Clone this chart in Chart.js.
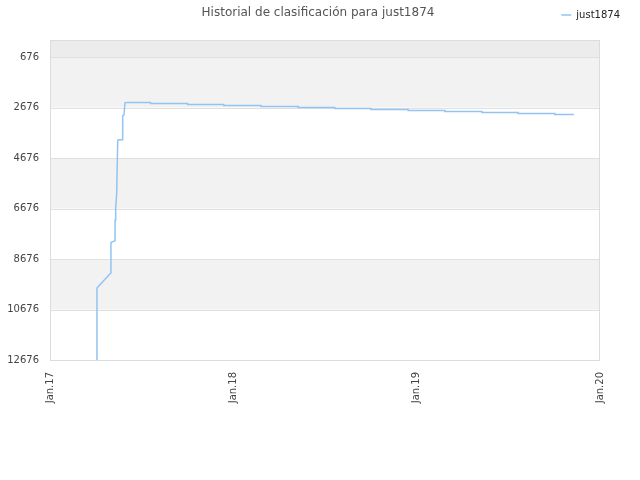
<!DOCTYPE html>
<html>
<head>
<meta charset="utf-8">
<script src="https://cdn.jsdelivr.net/npm/chart.js@4/dist/chart.umd.min.js"></script>
<style>
  html, body { margin: 0; padding: 0; background: #fff; }
  #wrap { width: 640px; height: 480px; }
</style>
</head>
<body>
<div id="wrap"><canvas id="rank-chart" width="640" height="480"></canvas></div>
<script>
// days since Jan 1 2017 / ranking position
const days = [93, 93.5, 121, 121.3, 123.4, 129.4, 129.6, 130.8, 132.8, 134.8, 136.4, 144.3, 144.7, 147.3, 149.3, 151.3,
  200, 200, 274, 274, 346, 346, 420, 420, 494, 494, 567, 567, 639, 639, 713, 713, 786, 786, 860, 860, 932, 932, 1005, 1005, 1043];
const ranks = [13500, 9821, 9226, 8037, 7998, 7958, 7126, 6650, 6055, 3994, 3954, 3954, 3003, 2963, 2488, 2476,
  2476, 2515, 2515, 2555, 2555, 2595, 2595, 2634, 2634, 2674, 2674, 2714, 2714, 2753, 2753, 2793, 2793, 2833, 2833, 2872, 2872, 2912, 2912, 2951, 2951];
const rankTicks = [676, 2676, 4676, 6676, 8676, 10676, 12676];
const dateTicks = [0, 365, 730, 1095];
const dateLabels = ['Jan.17', 'Jan.18', 'Jan.19', 'Jan.20'];
const playerName = 'just1874';
const chartTitle = 'Historial de clasificación para ' + playerName;

Chart.defaults.font.family = 'DejaVu Sans';

const bands = {
  id: 'bands',
  beforeDatasetsDraw(chart) {
    const {ctx, chartArea: a, scales: {y}} = chart;
    ctx.save();
    // top strip above first tick
    ctx.fillStyle = '#ececec';
    ctx.fillRect(a.left, a.top, a.width, y.getPixelForValue(rankTicks[0]) - a.top);
    for (let i = 0; i < rankTicks.length - 1; i += 2) {
      const y0 = y.getPixelForValue(rankTicks[i]);
      const y1 = y.getPixelForValue(rankTicks[i + 1]);
      ctx.fillStyle = '#f2f2f2';
      ctx.fillRect(a.left, y0, a.width, y1 - y0);
    }
    // redraw grid lines over the bands
    ctx.strokeStyle = '#e0e0e0';
    ctx.lineWidth = 1;
    rankTicks.forEach(v => {
      const py = Math.round(y.getPixelForValue(v)) + 0.5;
      ctx.beginPath();
      ctx.moveTo(a.left, py);
      ctx.lineTo(a.right, py);
      ctx.stroke();
    });
    ctx.restore();
  },
  afterDatasetsDraw(chart) {
    const {ctx, chartArea: a} = chart;
    ctx.save();
    ctx.strokeStyle = '#dcdcdc';
    ctx.lineWidth = 1;
    ctx.strokeRect(a.left + 0.5, a.top + 0.5, a.width - 1, a.height);
    ctx.restore();
  },
  afterDraw(chart) {
    const {ctx} = chart;
    ctx.save();
    ctx.font = '12px "DejaVu Sans"';
    ctx.fillStyle = '#555';
    ctx.textAlign = 'center';
    ctx.textBaseline = 'middle';
    ctx.fillText(chartTitle, 318, 13);
    ctx.restore();
  }
};

const legendGap = {
  id: 'legendGap',
  beforeInit(chart) {
    const fit = chart.legend.fit;
    chart.legend.fit = function () {
      fit.bind(chart.legend)();
      this.height += 10;
    };
  }
};

new Chart(document.getElementById('rank-chart'), {
  type: 'line',
  data: {
    datasets: [{
      label: playerName,
      data: days.map((d, i) => ({x: d, y: ranks[i]})),
      borderColor: '#92c4f2',
      backgroundColor: '#92c4f2',
      borderWidth: 1.5,
      pointRadius: 0,
      tension: 0,
      fill: false
    }]
  },
  options: {
    responsive: false,
    animation: false,
    layout: {padding: {top: 0, right: 10, left: 0, bottom: 0}},
    plugins: {
      title: {display: false},
      tooltip: {enabled: false},
      legend: {
        position: 'top',
        align: 'end',
        labels: {
          usePointStyle: true,
          pointStyle: 'line',
          pointStyleWidth: 10,
          boxWidth: 10,
          color: '#222',
          font: {size: 10},
          padding: 10
        }
      }
    },
    scales: {
      x: {
        type: 'linear',
        min: 0,
        max: 1095,
        afterBuildTicks: s => { s.ticks = dateTicks.map(v => ({value: v})); },
        afterFit: s => { s.height = 120; },
        grid: {display: false, drawTicks: false},
        border: {display: false},
        ticks: {
          minRotation: 90,
          maxRotation: 90,
          padding: 12,
          color: '#444',
          font: {size: 10},
          callback: v => dateLabels[dateTicks.indexOf(v)]
        }
      },
      y: {
        type: 'linear',
        reverse: true,
        min: 0,
        max: 12676,
        afterBuildTicks: s => { s.ticks = rankTicks.map(v => ({value: v})); },
        afterFit: s => { s.width = 50; },
        grid: {display: false, drawTicks: false},
        border: {display: false},
        ticks: {padding: 11, color: '#444', font: {size: 10}, callback: v => String(v)}
      },
      yR: {
        type: 'linear',
        position: 'right',
        afterFit: s => { s.width = 30; },
        grid: {display: false, drawTicks: false},
        border: {display: false},
        ticks: {display: false}
      }
    }
  },
  plugins: [bands, legendGap]
});
</script>
</body>
</html>
